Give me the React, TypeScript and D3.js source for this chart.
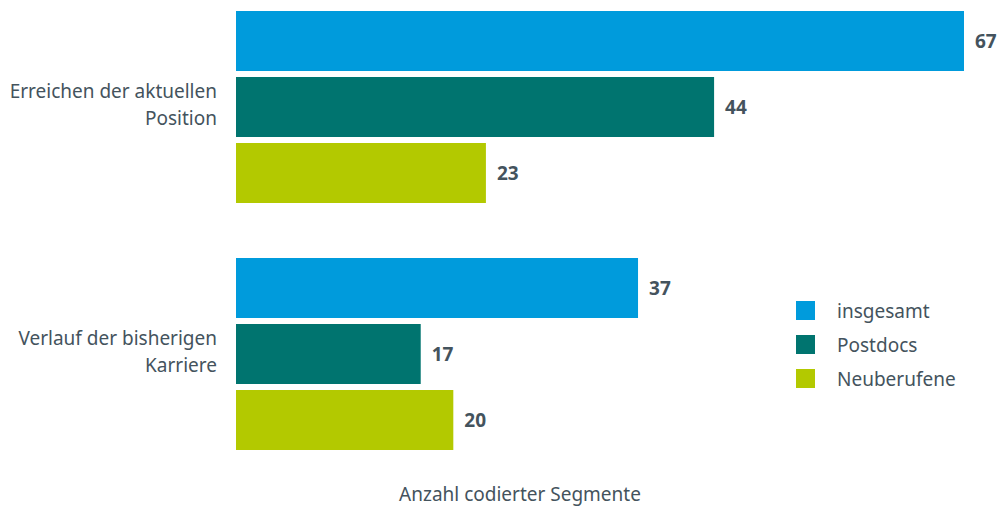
import React from 'react';
import * as d3 from 'd3';

const categories = ['Erreichen der aktuellen Position', 'Verlauf der bisherigen Karriere'];
const categoryLines = [
  ['Erreichen der aktuellen', 'Position'],
  ['Verlauf der bisherigen', 'Karriere'],
];
const seriesNames = ['insgesamt', 'Postdocs', 'Neuberufene'];
const seriesColors = ['#009bdc', '#00746f', '#b3c900'];
const insgesamt = [67, 37];
const postdocs = [44, 17];
const neuberufene = [23, 20];
const axisTitle = 'Anzahl codierter Segmente';

const values = [insgesamt, postdocs, neuberufene];

const width = 1000;
const height = 507;
const textColor = '#44535d';
const font = "'Source Sans Pro', 'Noto Sans', sans-serif";
const fs = 19;

export default function App() {
  // x scale: 0 at the left edge of the bars
  const xScale = d3.scaleLinear().domain([0, 67]).range([236, 964]);

  // group bands and bar bands inside each group
  const yGroup = d3.scaleBand().domain(categories).range([11, 450]).paddingInner(0.2227).paddingOuter(0);
  const ySeries = d3
    .scaleBand()
    .domain(seriesNames)
    .range([0, yGroup.bandwidth()])
    .paddingInner(0.091)
    .paddingOuter(0);

  const colour = d3.scaleOrdinal<string, string>().domain(seriesNames).range(seriesColors);

  return (
    <svg
      width={width}
      height={height}
      style={{ position: 'absolute', left: 0, top: 0, background: '#fff' }}
      fontFamily={font}
    >
      {categories.map((cat, ci) => {
        const gy = yGroup(cat) ?? 0;
        const mid = gy + yGroup.bandwidth() / 2;
        return (
          <g key={cat}>
            {categoryLines[ci].map((line, li) => (
              <text
                key={line}
                x={217}
                y={mid - 16 + li * 27}
                dy="0.35em"
                textAnchor="end"
                fontSize={fs}
                fill={textColor}
              >
                {line}
              </text>
            ))}
            {seriesNames.map((s, si) => {
              const v = values[si][ci];
              const by = gy + (ySeries(s) ?? 0);
              return (
                <g key={s}>
                  <rect
                    x={xScale(0)}
                    y={by}
                    width={xScale(v) - xScale(0)}
                    height={ySeries.bandwidth()}
                    fill={colour(s)}
                  />
                  <text
                    x={xScale(v) + 11}
                    y={by + ySeries.bandwidth() / 2}
                    dy="0.35em"
                    fontSize={fs}
                    fontWeight="bold"
                    fill={textColor}
                  >
                    {v}
                  </text>
                </g>
              );
            })}
          </g>
        );
      })}

      {/* legend */}
      {seriesNames.map((s, i) => (
        <g key={s} transform={`translate(796, ${301 + i * 34})`}>
          <rect width={19} height={19} fill={colour(s)} />
          <text x={41} y={10} dy="0.35em" fontSize={fs} fill={textColor}>
            {s}
          </text>
        </g>
      ))}

      <text x={520} y={494} dy="0.35em" textAnchor="middle" fontSize={fs} fill={textColor}>
        {axisTitle}
      </text>
    </svg>
  );
}
